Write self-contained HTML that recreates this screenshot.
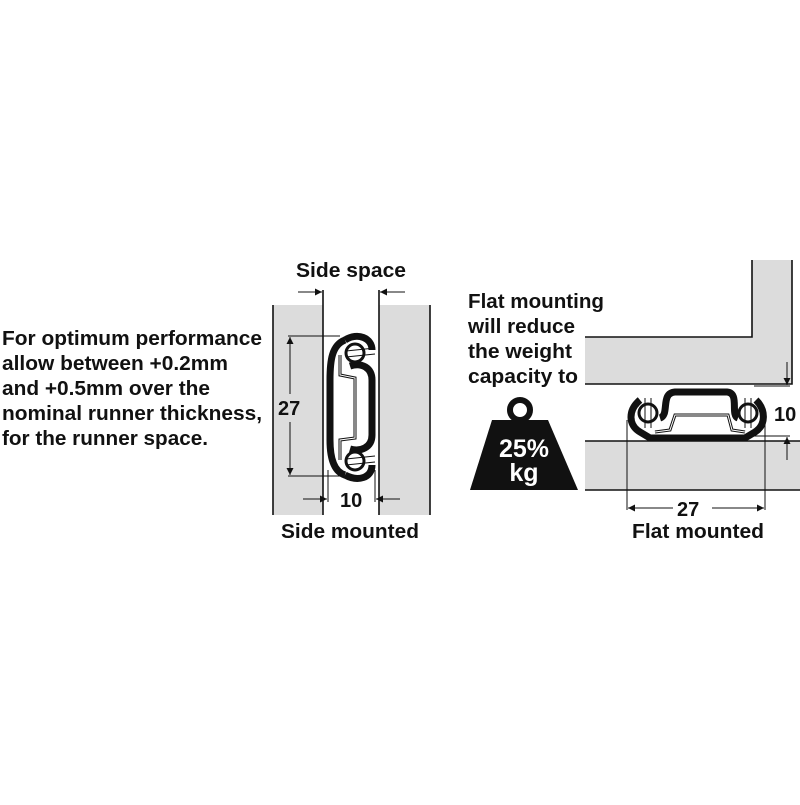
<!DOCTYPE html>
<html><head><style>
html,body{margin:0;padding:0;background:#fff}
svg text{font-family:"Liberation Sans",Arial,sans-serif;font-weight:bold;fill:#111}
</style></head><body>
<svg width="800" height="800" viewBox="0 0 800 800" xmlns="http://www.w3.org/2000/svg">
<defs>
<marker id="ar" viewBox="0 0 10 10" refX="10" refY="5" markerWidth="12" markerHeight="7" orient="auto" markerUnits="userSpaceOnUse"><path d="M0,0 L10,5 L0,10 z" fill="#111"/></marker>
</defs>
<!-- side panels -->
<rect x="273" y="305" width="50" height="210" fill="#dcdcdc"/>
<rect x="379" y="305" width="51" height="210" fill="#dcdcdc"/>
<g stroke="#111" stroke-width="1.6" fill="none">
<line x1="273" y1="305" x2="273" y2="515"/><line x1="323" y1="290" x2="323" y2="515"/>
<line x1="379" y1="290" x2="379" y2="515"/><line x1="430" y1="305" x2="430" y2="515"/>
</g>
<g stroke="#111" stroke-width="1" fill="none">
<line x1="298" y1="292" x2="322" y2="292" marker-end="url(#ar)"/>
<line x1="405" y1="292" x2="380" y2="292" marker-end="url(#ar)"/>
<line x1="288" y1="336" x2="340" y2="336"/><line x1="288" y1="476" x2="340" y2="476"/>
<line x1="290" y1="394" x2="290" y2="337" marker-end="url(#ar)"/>
<line x1="290" y1="422" x2="290" y2="475" marker-end="url(#ar)"/>
<line x1="328" y1="470" x2="328" y2="502"/><line x1="375" y1="470" x2="375" y2="502"/>
<line x1="303" y1="499" x2="327" y2="499" marker-end="url(#ar)"/>
<line x1="400" y1="499" x2="376" y2="499" marker-end="url(#ar)"/>
</g>
<!-- side runner -->
<g fill="none" stroke="#111">
<path d="M345,340 C332,345 330,360 330,380 L330,440 C330,460 335,472 345,475" stroke-width="7"/>
<path d="M345,340 C358,332 372,338 372,350 M345,475 C358,482 372,478 372,465" stroke-width="7"/>
<path d="M350,366 C362,362 372,368 372,380 L372,435 C372,448 360,452 350,449" stroke-width="7"/>
<path d="M340,355 L340,375 L355,378 L355,438 L340,440 L340,460" stroke-width="3"/>
<path d="M340,355 L340,375 L355,378 L355,438 L340,440 L340,460" stroke-width="1" stroke="#fff"/>
<circle cx="355" cy="353" r="9" stroke-width="3" fill="#fff"/>
<circle cx="355" cy="461" r="9" stroke-width="3" fill="#fff"/>
<path d="M346,351 L375,348 M346,357 L375,354 M346,459 L375,456 M346,465 L375,462" stroke-width="1"/>
</g>
<!-- flat panels -->
<rect x="585" y="337" width="167" height="47" fill="#dcdcdc"/>
<rect x="752" y="260" width="40" height="124" fill="#dcdcdc"/>
<rect x="585" y="441" width="215" height="49" fill="#dcdcdc"/>
<g stroke="#111" stroke-width="1.6" fill="none">
<path d="M585,337 L752,337 L752,260 M792,260 L792,384 L585,384"/>
<line x1="585" y1="441" x2="800" y2="441"/><line x1="585" y1="490" x2="800" y2="490"/>
</g>
<g stroke="#111" stroke-width="1" fill="none">
<line x1="754" y1="386" x2="790" y2="386"/><line x1="754" y1="436" x2="790" y2="436"/>
<line x1="787" y1="362" x2="787" y2="385" marker-end="url(#ar)"/>
<line x1="787" y1="460" x2="787" y2="437" marker-end="url(#ar)"/>
<line x1="627" y1="420" x2="627" y2="510"/><line x1="765" y1="420" x2="765" y2="510"/>
<line x1="673" y1="508" x2="628" y2="508" marker-end="url(#ar)"/>
<line x1="712" y1="508" x2="764" y2="508" marker-end="url(#ar)"/>
</g>
<!-- flat runner -->
<g fill="none" stroke="#111">
<path d="M640,400 C628,410 628,425 640,432 L650,438 L745,438 L755,432 C766,425 766,410 756,400" stroke-width="7"/>
<path d="M660,418 C670,415 660,393 675,392 L727,392 C740,393 730,415 738,418" stroke-width="7"/>
<path d="M655,432 L670,430 L675,415 L728,415 L732,430 L745,432" stroke-width="3"/>
<path d="M655,432 L670,430 L675,415 L728,415 L732,430 L745,432" stroke-width="1" stroke="#fff"/>
<circle cx="648" cy="413" r="9" stroke-width="3" fill="#fff"/>
<circle cx="748" cy="413" r="9" stroke-width="3" fill="#fff"/>
<path d="M645,398 L645,428 M651,398 L651,428 M745,398 L745,428 M751,398 L751,428" stroke-width="1"/>
</g>
<!-- weight -->
<circle cx="520" cy="410" r="10" fill="none" stroke="#111" stroke-width="6"/>
<path d="M492,420 L548,420 L578,490 L470,490 Z" fill="#111"/>
<text x="524" y="457" font-size="25" text-anchor="middle" style="fill:#fff">25%</text>
<text x="524" y="481" font-size="25" text-anchor="middle" style="fill:#fff">kg</text>
<g font-size="20">
<text x="2" y="345" textLength="260" lengthAdjust="spacingAndGlyphs">For optimum performance</text>
<text x="2" y="370" textLength="226" lengthAdjust="spacingAndGlyphs">allow between +0.2mm</text>
<text x="2" y="395" textLength="208" lengthAdjust="spacingAndGlyphs">and +0.5mm over the</text>
<text x="2" y="420" textLength="260" lengthAdjust="spacingAndGlyphs">nominal runner thickness,</text>
<text x="2" y="445" textLength="206" lengthAdjust="spacingAndGlyphs">for the runner space.</text>
<text x="468" y="308" textLength="136" lengthAdjust="spacingAndGlyphs">Flat mounting</text>
<text x="468" y="333" textLength="107" lengthAdjust="spacingAndGlyphs">will reduce</text>
<text x="468" y="358" textLength="104" lengthAdjust="spacingAndGlyphs">the weight</text>
<text x="468" y="383" textLength="110" lengthAdjust="spacingAndGlyphs">capacity to</text>
<text x="296" y="277" textLength="110" lengthAdjust="spacingAndGlyphs">Side space</text>
<text x="281" y="538" textLength="138" lengthAdjust="spacingAndGlyphs">Side mounted</text>
<text x="632" y="538" textLength="132" lengthAdjust="spacingAndGlyphs">Flat mounted</text>
<text x="278" y="415">27</text>
<text x="340" y="507">10</text>
<text x="677" y="516">27</text>
<text x="774" y="421">10</text>
</g>
</svg>
</body></html>
